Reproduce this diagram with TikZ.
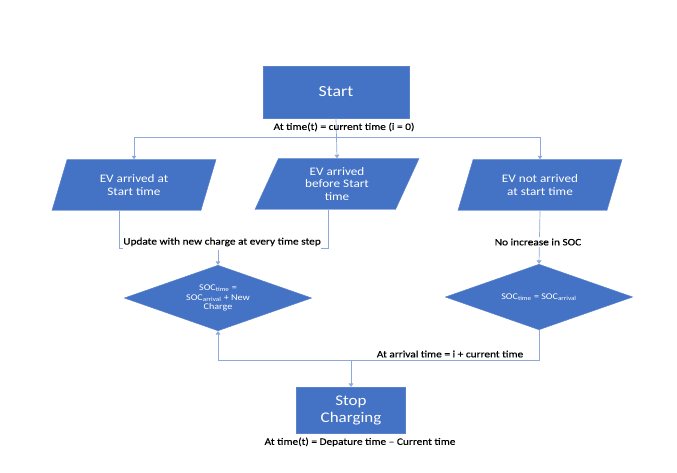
\documentclass[tikz,border=0pt]{standalone}
\usepackage{fontspec}
\setmainfont[FakeStretch=1.15]{Carlito}
\newfontfamily\notefont[FakeStretch=1.15,FakeBold=0.4]{Carlito}
\usetikzlibrary{shapes.geometric,arrows.meta}
\definecolor{boxblue}{HTML}{4472C4}
\definecolor{edgeblue}{HTML}{5A82CC}
\definecolor{linkblue}{HTML}{8EA9DB}
\begin{document}
\begin{tikzpicture}[x=0.03cm,y=-0.03cm]
  \tikzstyle{block}=[rectangle,fill=boxblue,draw=edgeblue,text=white,align=center]
  \tikzstyle{inout}=[trapezium,trapezium left angle=57,trapezium right angle=123,trapezium stretches body,
    fill=boxblue,draw=edgeblue,text=white,align=center,font=\fontsize{9.8}{11}\selectfont,
    minimum width=140pt,minimum height=43.5pt,inner sep=1pt]
  \tikzstyle{socbox}=[diamond,aspect=2.8,fill=boxblue,draw=edgeblue,text=white,align=center,
    font=\fontsize{7.5}{8.4}\selectfont,minimum width=160pt,minimum height=56pt,inner sep=0pt]
  \tikzstyle{note}=[font=\notefont\fontsize{8.4}{9.5}\selectfont,inner sep=1.5pt]
  \tikzstyle{flow}=[draw=linkblue,line width=0.6pt]
  \tikzstyle{arrow}=[flow,-{Triangle[width=4pt,length=3pt]}]
  \useasboundingbox (0,0) rectangle (677,472);
  \node[block,minimum width=124.6pt,minimum height=44.4pt,font=\fontsize{13.2}{15}\selectfont] (start) at (336,92) {Start};
  \node[inout] (arrleft)   at (134,185) {EV arrived at\\Start time};
  \node[inout] (arrbefore) at (337,184) {EV arrived\\before Start\\time};
  \node[inout] (notarr)    at (540,185) {EV not arrived\\at start time};
  \node[socbox] (lsoc) at (218,298) {SOC\textsubscript{time} =\\SOC\textsubscript{arrival} + New\\Charge};
  \node[socbox] (rsoc) at (539,297) {SOC\textsubscript{time} = SOC\textsubscript{arrival}};
  \node[block,minimum width=93pt,minimum height=39pt,font=\fontsize{12.6}{14.5}\selectfont] (stop) at (351,410) {Stop\\Charging};
  % fork below start
  \coordinate (fork) at (337,137);
  \draw[arrow] (start.south) -- (arrbefore.north);
  \draw[arrow] (fork) -| (arrleft.north);
  \draw[arrow] (fork) -| (notarr.north);
  \node[note] (startlab) at (344,127) {At time(t) = current time (i = 0)};
  % merge of first two cases
  \coordinate (lfoot) at (119,248);
  \coordinate (mfoot) at (328,248);
  \draw[flow] (arrleft.south -| lfoot) -- (lfoot) -- (mfoot) -- (arrbefore.south -| mfoot);
  \draw[arrow] (lfoot -| lsoc.north) -- (lsoc.north);
  \node[note,fill=white,inner xsep=0pt,inner ysep=3.6pt] (updlab) at (222,242) {Update with new charge at every time step};
  % third case
  \draw[arrow] (notarr.south) -- (rsoc.north);
  \node[note,fill=white] (nolab) at (538,242) {No increase in SOC};
  % loop back and stop
  \coordinate (back) at (218,360);
  \draw[arrow] (rsoc.south) -- (rsoc.south |- back) -- (back) -- (lsoc.south);
  \draw[arrow] (stop.north |- back) -- (stop.north);
  \node[note] (arrlab) at (450,354) {At arrival time = i + current time};
  \node[note] (stoplab) at (360,442) {At time(t) = Depature time \textendash{} Current time};
\end{tikzpicture}
\end{document}
